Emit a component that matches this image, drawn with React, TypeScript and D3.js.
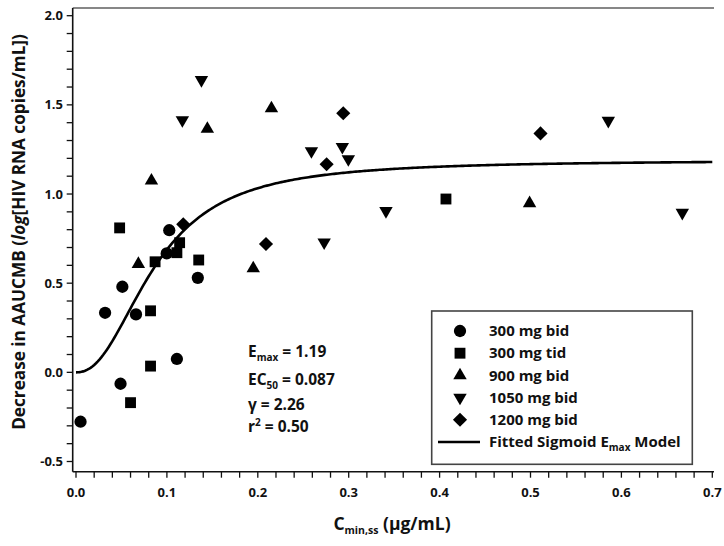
import React from "react";
import * as d3 from "d3";

const xTickValues = [0, 0.1, 0.2, 0.3, 0.4, 0.5, 0.6, 0.7];
const yTickValues = [-0.5, 0, 0.5, 1.0, 1.5, 2.0];

const dose300bid: [number, number][] = [
  [0.005, -0.277], [0.032, 0.334], [0.051, 0.48], [0.049, -0.064], [0.066, 0.325],
  [0.111, 0.075], [0.134, 0.53], [0.1026, 0.797], [0.0998, 0.667],
];
const dose300tid: [number, number][] = [
  [0.082, 0.345], [0.082, 0.035], [0.060, -0.17], [0.048, 0.81], [0.087, 0.62],
  [0.114, 0.727], [0.111, 0.671], [0.135, 0.63], [0.407, 0.972],
];
const dose900bid: [number, number][] = [
  [0.083, 1.075], [0.0686, 0.607], [0.1445, 1.365], [0.215, 1.48], [0.195, 0.583], [0.499, 0.948],
];
const dose1050bid: [number, number][] = [
  [0.138, 1.64], [0.117, 1.415], [0.273, 0.729], [0.259, 1.241], [0.293, 1.265],
  [0.2996, 1.196], [0.341, 0.905], [0.5856, 1.411], [0.667, 0.895],
];
const dose1200bid: [number, number][] = [
  [0.118, 0.83], [0.209, 0.72], [0.294, 1.453], [0.2757, 1.167], [0.511, 1.34],
];

const legendLabels = ["300 mg bid", "300 mg tid", "900 mg bid", "1050 mg bid", "1200 mg bid"];

const Emax = 1.19;
const EC50 = 0.087;
const gammaHill = 2.26;
const r2 = 0.5;

const FONT = "'Open Sans', 'DejaVu Sans', sans-serif";

type Shape = "circle" | "square" | "up" | "down" | "diamond";

function markerPath(shape: Shape): { d: string; rot: number } {
  switch (shape) {
    case "circle":
      return { d: d3.symbol().type(d3.symbolCircle).size(118)() as string, rot: 0 };
    case "square":
      return { d: d3.symbol().type(d3.symbolSquare).size(118)() as string, rot: 0 };
    case "up":
      return { d: d3.symbol().type(d3.symbolTriangle).size(78)() as string, rot: 0 };
    case "down":
      return { d: d3.symbol().type(d3.symbolTriangle).size(78)() as string, rot: 180 };
    case "diamond":
      return { d: d3.symbol().type(d3.symbolSquare).size(100)() as string, rot: 45 };
  }
}

export default function App() {
  const W = 724;
  const H = 546;
  const x = d3.scaleLinear().domain([0, 0.7]).range([76, 712.3]);
  const y = d3.scaleLinear().domain([-0.5, 2.0]).range([461.5, 15.7]);
  const axisX = 72.7;
  const axisY = 471.7;

  const series: { data: [number, number][]; shape: Shape }[] = [
    { data: dose300bid, shape: "circle" },
    { data: dose300tid, shape: "square" },
    { data: dose900bid, shape: "up" },
    { data: dose1050bid, shape: "down" },
    { data: dose1200bid, shape: "diamond" },
  ];

  const model = (c: number) =>
    (Emax * Math.pow(c, gammaHill)) / (Math.pow(EC50, gammaHill) + Math.pow(c, gammaHill));
  const cs = d3.range(0, 0.7001, 0.002);
  const line = d3
    .line<number>()
    .x((c) => x(c))
    .y((c) => y(model(c)))
    .curve(d3.curveLinear);

  const yMinor = d3.range(-5, 21).map((i) => i / 10);
  const xMinor = d3.range(0, 36).map((i) => i / 50);

  const legendX = 431.7;
  const legendY = 311;
  const legendW = 260.6;
  const legendH = 153.3;
  const rowY0 = 331;
  const rowStep = 22.2;

  return (
    <svg
      width={W}
      height={H}
      viewBox={`0 0 ${W} ${H}`}
      style={{ position: "absolute", left: 0, top: 0, display: "block", background: "#fff" }}
      fontFamily={FONT}
    >
      <rect x={0} y={0} width={W} height={H} fill="#fff" />

      {/* Y axis */}
      <line x1={axisX} x2={axisX} y1={8} y2={axisY} stroke="#111" strokeWidth={1.6} />
      <line x1={axisX} x2={714} y1={8} y2={8} stroke="#111" strokeWidth={1.2} />
      {yMinor.map((v) => (
        <line key={"ym" + v} x1={axisX - 6} x2={axisX} y1={y(v)} y2={y(v)} stroke="#111" strokeWidth={1.3} />
      ))}
      {yTickValues.map((v) => (
        <text
          key={"yl" + v}
          x={63}
          y={y(v)}
          dy="0.35em"
          textAnchor="end"
          fontSize={13}
          fontWeight={700}
          fill="#111"
        >
          {v.toFixed(1)}
        </text>
      ))}

      {/* X axis */}
      <line x1={axisX} x2={714} y1={axisY} y2={axisY} stroke="#111" strokeWidth={1.6} />
      {xMinor.map((v) => (
        <line key={"xm" + v} x1={x(v)} x2={x(v)} y1={axisY} y2={axisY + 6} stroke="#111" strokeWidth={1.3} />
      ))}
      {xTickValues.map((v) => (
        <text
          key={"xl" + v}
          x={x(v)}
          y={497}
          textAnchor="middle"
          fontSize={13}
          fontWeight={700}
          fill="#111"
        >
          {v.toFixed(1)}
        </text>
      ))}

      {/* Axis titles */}
      <text
        transform={`translate(19,232) rotate(-90)`}
        textAnchor="middle"
        dy="0.35em"
        fontSize={17.2}
        fontWeight={700}
        fill="#111"
      >
        Decrease in AAUCMB (<tspan fontStyle="italic">log</tspan>[HIV RNA copies/mL])
      </text>
      <text x={392} y={530} textAnchor="middle" fontSize={17.5} fontWeight={700} fill="#111">
        C<tspan fontSize={10.5} dy={4}>min,ss</tspan>
        <tspan dy={-4}> (µg/mL)</tspan>
      </text>

      {/* Fitted curve */}
      <path d={line(cs) as string} fill="none" stroke="#000" strokeWidth={2.6} />

      {/* Points */}
      {series.map((s, si) => {
        const m = markerPath(s.shape);
        return (
          <g key={"s" + si}>
            {s.data.map((p, i) => (
              <path
                key={i}
                d={m.d}
                transform={`translate(${x(p[0])},${y(p[1])}) rotate(${m.rot})`}
                fill="#000"
              />
            ))}
          </g>
        );
      })}

      {/* Annotation */}
      <g fontSize={15.5} fontWeight={700} fill="#111">
        <text x={248} y={357}>
          E<tspan fontSize={10} dy={4}>max</tspan>
          <tspan dy={-4}> = {Emax.toFixed(2)}</tspan>
        </text>
        <text x={248} y={385}>
          EC<tspan fontSize={10} dy={4}>50</tspan>
          <tspan dy={-4}> = {EC50.toFixed(3)}</tspan>
        </text>
        <text x={248} y={410}>
          γ = {gammaHill.toFixed(2)}
        </text>
        <text x={248} y={432}>
          r<tspan fontSize={10} dy={-6}>2</tspan>
          <tspan dy={6}> = {r2.toFixed(2)}</tspan>
        </text>
      </g>

      {/* Legend */}
      <rect
        x={legendX}
        y={legendY}
        width={legendW}
        height={legendH}
        fill="#fff"
        stroke="#444"
        strokeWidth={1.6}
      />
      {legendLabels.map((lab, i) => {
        const m = markerPath(series[i].shape);
        const cy = rowY0 + i * rowStep;
        return (
          <g key={"lg" + i}>
            <path d={m.d} transform={`translate(460,${cy}) rotate(${m.rot})`} fill="#000" />
            <text x={489} y={cy} dy="0.35em" fontSize={15} fontWeight={700} fill="#111">
              {lab}
            </text>
          </g>
        );
      })}
      <line
        x1={438}
        x2={480}
        y1={rowY0 + 5 * rowStep}
        y2={rowY0 + 5 * rowStep}
        stroke="#000"
        strokeWidth={2.6}
      />
      <text x={489} y={rowY0 + 5 * rowStep} dy="0.35em" fontSize={15} fontWeight={700} fill="#111">
        Fitted Sigmoid E<tspan fontSize={10} dy={4}>max</tspan>
        <tspan dy={-4}> Model</tspan>
      </text>
    </svg>
  );
}
